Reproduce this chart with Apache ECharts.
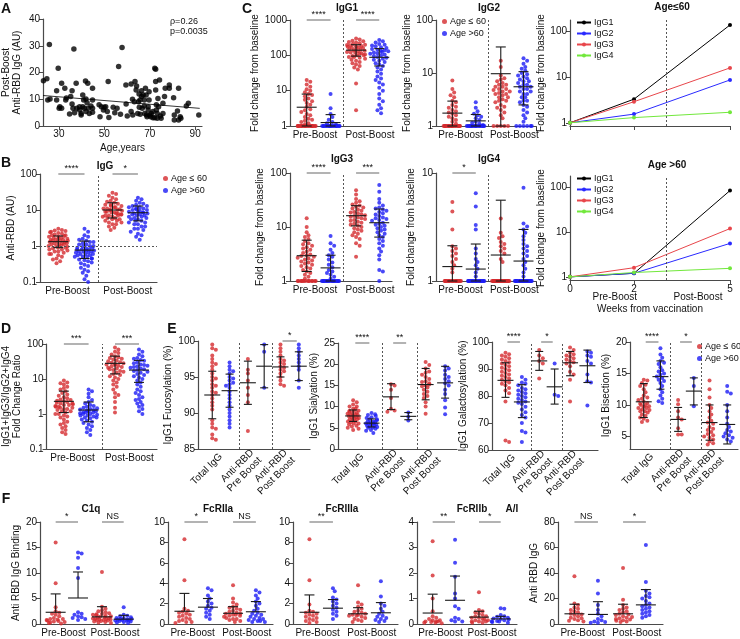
<!DOCTYPE html>
<html><head><meta charset="utf-8">
<script src="https://cdn.jsdelivr.net/npm/echarts@6/dist/echarts.min.js"></script>
<style>html,body{margin:0;padding:0;background:#fff}#c{width:740px;height:639px}</style>
</head><body><div id="c"></div>
<script>
// ===================== DATA =====================
// Panel A: [age, post-boost anti-RBD IgG]
const A_points=[[23.2,16.9],[24.7,17.7],[25.8,30.5],[25.1,9.7],[26.1,10.1],[29.0,13.2],[29.0,9.7],[29.7,21.6],[30.4,7.2],[31.2,6.6],[30.1,6.6],[31.2,16.0],[32.6,14.1],[33.0,9.7],[33.3,10.5],[34.7,4.5],[35.2,11.0],[35.8,13.2],[35.8,8.2],[36.2,6.6],[36.6,28.8],[36.9,5.0],[37.6,16.0],[37.9,6.6],[39.1,7.2],[39.1,6.0],[39.8,4.7],[39.8,4.1],[40.5,11.6],[40.5,7.2],[40.9,9.7],[41.2,6.6],[41.7,16.8],[41.9,5.4],[41.9,10.1],[42.4,8.7],[42.7,16.0],[42.9,6.6],[43.4,4.7],[44.1,7.5],[44.8,14.1],[44.8,9.7],[44.8,6.6],[44.8,5.1],[47.7,7.9],[48.1,3.5],[48.7,7.2],[49.6,6.0],[49.9,7.0],[50.6,7.2],[51.3,5.4],[51.7,16.6],[52.0,3.2],[53.9,7.0],[54.6,5.0],[55.6,6.6],[56.3,22.2],[57.1,4.4],[57.8,29.3],[59.5,15.3],[59.6,8.2],[60.1,3.7],[61.8,15.7],[61.8,5.4],[62.4,10.0],[62.5,4.1],[63.2,9.1],[63.5,16.6],[64.0,13.5],[64.2,15.0],[64.7,4.7],[65.0,9.1],[65.3,12.0],[65.4,7.0],[65.7,9.7],[65.8,4.4],[66.4,11.0],[66.4,13.2],[66.7,6.6],[67.1,11.6],[67.6,7.5],[67.6,9.7],[67.8,4.7],[68.1,14.1],[68.4,11.6],[68.6,4.1],[68.8,3.5],[69.3,6.0],[69.3,7.2],[69.7,9.7],[69.7,12.8],[70.0,4.1],[70.4,3.5],[70.7,4.7],[71.4,3.1],[71.4,5.4],[72.2,3.1],[72.2,21.6],[72.6,21.2],[72.6,16.6],[72.6,13.5],[72.9,7.9],[72.9,6.0],[73.3,2.9],[73.3,4.7],[73.6,10.3],[73.9,7.2],[74.3,17.2],[74.7,3.7],[75.0,2.9],[75.8,8.5],[75.8,4.7],[76.5,11.0],[76.8,14.1],[78.6,15.3],[78.6,14.1],[80.5,10.6],[80.8,4.1],[80.8,2.2],[82.2,5.6],[82.7,2.2],[82.7,14.1],[83.4,3.5],[83.7,2.9],[86.1,7.5],[87.0,8.5],[91.6,4.1]];
const A_fitAge=[23,92], A_fitVal=[11.4,6.6];

// Panel B: anti-RBD IgG (AU)
const B_le60_pre=[3.0,2.8,2.7,2.6,2.5,2.4,2.3,2.2,2.1,2.0,2.0,1.9,1.8,1.8,1.7,1.7,1.6,1.6,1.5,1.5,1.5,1.4,1.4,1.4,1.3,1.3,1.3,1.2,1.2,1.2,1.1,1.1,1.1,1.0,1.0,1.0,0.95,0.9,0.9,0.85,0.8,0.8,0.75,0.7,0.7,0.65,0.6,0.6,0.55,0.5,0.45,0.42,0.38,0.33];
const B_gt60_pre=[3.0,2.5,2.0,1.8,1.6,1.5,1.4,1.3,1.3,1.2,1.1,1.1,1.0,1.0,0.95,0.9,0.9,0.85,0.8,0.8,0.8,0.75,0.75,0.7,0.7,0.7,0.65,0.65,0.6,0.6,0.6,0.55,0.55,0.5,0.5,0.5,0.45,0.45,0.42,0.4,0.38,0.35,0.33,0.3,0.28,0.25,0.22,0.2,0.18,0.15,0.12,0.1];
const B_le60_post=[30,28,25,22,20,18,17,16,15,14,14,13,13,12,12,11,11,10.5,10,10,10,9.5,9,9,8.5,8.5,8,8,7.5,7.5,7,7,7,6.5,6.5,6,6,5.5,5.5,5,5,4.5,4.5,4,4,3.5,3.2,2.8];
const B_gt60_post=[22,20,18,16,15,14,13,13,12,12,11,11,10.5,10,10,9.5,9,9,8.5,8.5,8,8,7.5,7.5,7,7,6.5,6.5,6,6,5.5,5.5,5,5,4.5,4.5,4,4,3.5,3.5,3,3,2.8,2.5,2.2,2,1.8,1.5];
const B_mean=[1.32,0.77,10,8.4], B_lo=[0.9,0.45,6,5], B_hi=[1.9,1.37,15.9,12.9];
const B_sig=['****','*'];

// Panel C: fold change from baseline
const C1_le60_pre=[20,18,15,13,11,10,9,8,7.5,7,6,5.5,5,4.5,4,3.5,3,2.8,2.5,2.2,2,1.8,1.6,1.5,1.4,1.3,1.2,1.1,1,1,1,1,1,1,1,1,1,1,1,1,1,1,1,1,1,1,1,1];
const C1_gt60_pre=[8,3.2,2.2,1.8,1.5,1.3,1.2,1.1,1,1,1,1,1,1,1,1,1,1,1,1,1,1,1,1,1,1];
const C1_le60_post=[300,280,260,250,240,230,220,210,200,195,190,185,180,175,170,165,160,155,150,145,140,135,130,125,120,118,115,110,105,100,100,95,90,90,85,80,75,70,65,60,55,50,45,40,16,2.8];
const C1_gt60_post=[270,250,230,210,200,190,180,170,160,150,145,140,135,130,125,120,115,110,105,100,95,90,85,80,75,70,65,60,55,50,45,40,35,30,25,22,20,17,15,12,10,8,6,5,4,3.2,2.8,2.3];
const C1_mean=[3.4,1.25,140,88], C1_lo=[1,1,95,50], C1_hi=[8,2.1,200,155];
const C1_sig=['****','****'];

const C2_le60_pre=[7.2,5,4.3,3.8,3.5,3,2.8,2.5,2.3,2.2,2,1.9,1.8,1.7,1.6,1.5,1.4,1.3,1.2,1.1,1,1,1,1,1,1,1,1,1,1,1,1,1,1,1,1,1,1,1,1];
const C2_gt60_pre=[2.8,2.2,1.9,1.7,1.6,1.5,1.4,1.3,1.2,1.15,1.1,1.05,1,1,1,1,1,1,1,1,1,1,1,1,1,1,1,1,1,1];
const C2_le60_post=[17,13,9,8,7.5,7,6.5,6,6,5.5,5.5,5,5,4.8,4.5,4.5,4.2,4,4,3.8,3.5,3.5,3.2,3,3,2.8,2.5,2.3,2.2,2,1.8,1.6,1.4,1,1,1,1,1];
const C2_gt60_post=[19,17,15,13,12,11,10,9.5,9,8.5,8,7.5,7,7,6.5,6,6,5.5,5.5,5,5,4.5,4.5,4,4,3.5,3.5,3,3,2.8,2.5,2.3,2,1.8,1.6,1.4,1.2,1,1,1,1,1,1];
const C2_mean=[1.75,1.25,9.7,5.5], C2_lo=[1,1,1,2.5], C2_hi=[2.95,1.65,31,10.6];
const C2_sig=[null,null];

const C3_le60_pre=[14.5,10,8,7,6.5,6,5.5,5,4.8,4.5,4.2,4,3.8,3.5,3.3,3.1,3,2.9,2.8,2.7,2.6,2.5,2.4,2.3,2.2,2.1,2,1.9,1.8,1.7,1.6,1.5,1.4,1.3,1.2,1.1,1,1,1,1,1,1,1,1,1,1,1,1,1,1];
const C3_gt60_pre=[6.8,5,4.5,3.8,3.3,3,2.8,2.5,2.2,2,1.8,1.6,1.5,1.4,1.3,1.2,1.1,1,1,1,1,1,1,1,1,1,1,1,1,1,1,1,1,1,1,1];
const C3_le60_post=[48,40,33,30,28,26,25,24,23,22,21,20,19,18.5,18,17,16.5,16,15.5,15,14.5,14,13.5,13,12.5,12,11.5,11,10.5,10,9.5,9,8.5,8,7.5,7,6.5,6,5,4.5,2.8];
const C3_gt60_post=[60,45,33,28,25,23,22,21,20,19,18,17,16,15,14.5,14,13.5,13,12,11.5,11,10.5,10,9.5,9,8.5,8,7.5,7,6.5,6,5.5,5,4.5,4,3.5,3,2.5,1.6,1.5,1];
const C3_mean=[2.94,1.75,16.2,12], C3_lo=[1.5,1,10.5,6.5], C3_hi=[5.7,3,24.8,21.5];
const C3_sig=['****','***'];

const C4_le60_pre=[5.4,4.4,3,2.1,2,1.9,1.8,1.7,1.6,1.5,1.4,1.3,1.2,1,1,1,1,1,1,1,1,1,1,1,1,1,1,1,1,1,1,1,1];
const C4_gt60_pre=[6.5,4.9,3.3,3,2,1.8,1.6,1.5,1.4,1.3,1.2,1.1,1,1,1,1,1,1,1,1,1,1,1,1,1,1,1,1,1,1,1,1,1];
const C4_le60_post=[3.8,2.8,2.6,2.5,2.3,2.2,2.1,2,1.9,1.8,1.6,1.5,1,1,1,1,1,1,1,1,1,1,1,1,1,1,1,1,1,1,1,1,1,1,1,1,1,1,1,1];
const C4_gt60_post=[7.3,3.4,3.2,3,2.8,2.6,2.4,2.2,2.1,2,1.9,1.8,1.7,1.6,1.5,1.4,1.3,1.2,1.1,1,1,1,1,1,1,1,1,1,1,1,1,1,1,1,1,1,1,1,1,1,1,1,1,1];
const C4_mean=[1.36,1.29,1.74,1.53], C4_lo=[1,1,1,1], C4_hi=[2.12,2.2,5.6,3.0];
const C4_sig=['*',null];

// Panel C line plots: weeks from vaccination
const weeks=[0,2,5];
const le60_IgG1=[1,3.3,140], le60_IgG2=[1,1.55,8.7], le60_IgG3=[1,2.9,16], le60_IgG4=[1,1.3,1.7];
const gt60_IgG1=[1,1.2,85], gt60_IgG2=[1,1.2,5.6], gt60_IgG3=[1,1.6,12], gt60_IgG4=[1,1.25,1.55];

// Panel D: IgG1+IgG3/IgG2+IgG4 fold change ratio
const D_le60_pre=[9,8,7.5,7,6,5.5,5,4.5,4,3.6,3.3,3,2.8,2.6,2.5,2.4,2.3,2.2,2.1,2,2,1.9,1.8,1.8,1.7,1.6,1.6,1.5,1.5,1.4,1.4,1.3,1.2,1.2,1.1,1,1,0.9,0.85,0.8,0.7,0.6,0.55,0.5,0.45,0.4,0.35,0.3,0.27];
const D_gt60_pre=[5,4.5,3.8,3,2.5,2.2,2,1.8,1.7,1.6,1.5,1.45,1.4,1.35,1.3,1.25,1.2,1.2,1.15,1.1,1.1,1.05,1,1,0.95,0.9,0.9,0.85,0.8,0.8,0.75,0.7,0.65,0.6,0.55,0.5,0.45,0.4,0.35,0.3,0.25];
const D_le60_post=[80,70,60,55,50,45,42,40,38,36,34,32,30,29,28,27,26,25,24,23,22,21,20,19,18,17,16,15,14,13,12,11,10,9,8,7,6,5,4,3.5,3,2.2,1.5,1.1];
const D_gt60_post=[70,60,50,45,40,38,35,33,30,28,26,25,24,23,22,21,20,19,18,17,16,15,14,13,12,11,10,9,8,7,6,5,4.5,4,3.5,3,2.7,2.5,2.2,2,1.8,1.6,1.4,1.2,1];
const D_mean=[2.3,1.3,28,18], D_lo=[1.1,0.6,14,8], D_hi=[4.5,2.2,45,34];
const D_sig=['***','***'];

// Panel E: glycosylation (%), groups: Total IgG, Anti-RBD Pre Boost, Anti-RBD Post Boost
const E_cats=['Total IgG','Anti-RBD\nPre Boost','Anti-RBD\nPost Boost'];
const E1_le60_total=[99.5,99,98.8,98,97.5,97,96.8,96.5,96,95.5,95,94.8,94.5,94,93.8,93.5,93,92.8,92.5,92,91.5,91,90.5,89,88.5,88,87.8,87,86.5,86.3];
const E1_gt60_total=[97,96.5,96,95.8,95.5,95,94.8,94.5,94.2,94,93.8,93.5,93,92.5,92,91.5,91,90.5,90,89.5,89,88.5,88];
const E1_le60_pre=[97.5,96,95.5,94.5,93.5,92.5,91.5,87.5];
const E1_gt60_pre=[99.5,98.5,93.5];
const E1_le60_post=[99.5,99,98.5,98,97.5,97.3,97,96.8,96.5,96.3,96,95.8,95.5,95,94.5,94,93.8];
const E1_gt60_post=[99.5,99,98.5,98,97.5,97,96.5,96,94.5,93.5];
const E1_mean=[92.5,93.1,94.2,96.5,96.4,96.5], E1_lo=[89.2,90.8,91.2,93.5,95,94.5], E1_hi=[95.8,95.4,97.2,99.5,97.8,98.5];
const E1_sig=[null,null,'*'];

const E2_le60_total=[11.5,11,10.5,10,10,9.5,9.5,9,9,9,8.8,8.5,8.5,8.3,8.2,8,8,7.8,7.8,7.5,7.5,7.3,7.2,7,7,6.8,6.5,6.5,6.3,6,6,5.8,5.5,5.3,5,4.8,4.5];
const E2_gt60_total=[8.5,8.2,8,7.8,7.5,7.3,7,7,6.8,6.5,6.5,6.3,6.2,6,6,6,5.8,5.8,5.5,5.5,5.3,5.2,5,5,4.8,4.5,4.3,3.8];
const E2_le60_pre=[15.3,15,14,12,9.5,9.1,8.8];
const E2_gt60_pre=[8.6,7.6,6.7];
const E2_le60_post=[20.5,19.8,19,18.3,18,17.5,17,16.5,16,15.8,15.5,15.2,15,14.8,14.5,14,13.5,13,12.5,12,11,10,8.3];
const E2_gt60_post=[19.5,19,18.5,17.5,17,16.5,16,15.5,15,14,13,11.5,9.8,8.2];
const E2_mean=[7.8,6.1,12.3,7.7,15.2,15.6], E2_lo=[6.5,5.2,9.3,6.9,11.6,12], E2_hi=[9.2,7.1,15.4,8.6,19,19.5];
const E2_sig=['****','**',null];

const E3_le60_total=[96,95.5,95,94.5,94,93.5,93,92.5,92,91.5,91,90.5,90,89.5,89,88.5,88,87.5,87,86.5,86,85.5,85,84.5,84,83,82,81,78,63.5,63];
const E3_gt60_total=[87,86,85,84.5,84,83,82.5,82,81.5,81,80.5,80,79.5,79,78.5,78,77.5,77,76,75,74,73,72,70,67,66.5,63];
const E3_le60_pre=[97,95,94,93,92,86.5];
const E3_gt60_pre=[92,80.5,80];
const E3_le60_post=[98,97,96,95.5,95,94.5,94,93.5,93,92.5,92,91,89,88,86,78];
const E3_gt60_post=[96.5,96,95,94.5,93,92,88,85.5,85,76.5];
const E3_mean=[85.8,77.8,93,83.4,92.3,91.2], E3_lo=[79.5,72,89.5,77,87.5,85], E3_hi=[92.3,84.2,96.5,90,96.5,97];
const E3_sig=['****','*',null];

const E4_le60_total=[14,13.9,13.5,13.2,13,12.5,12,11.5,11.2,11,10.8,10.5,10.3,10.2,10,10,9.8,9.7,9.5,9.5,9.3,9.2,9,9,8.8,8.5,8.3,8,7.8,7.5,7.3];
const E4_gt60_total=[19,18,17.5,17,16.7,16.5,16,15.5,15.3,15,14.8,14.5,14.3,14,13.8,13.5,13,12.5,12,11.5,11,10.6,10.3];
const E4_le60_pre=[10.8,10.1,9,8,7.7,6.3,5.3,5.3];
const E4_gt60_pre=[14.3,13,9.8];
const E4_le60_post=[13.9,12.5,11.2,10,9.5,9,8.5,8,7.5,7.2,7,6.5,6.2,6,5.7,5.4,5.2,5,4.8,4.5,4.2,3.9,3.7];
const E4_gt60_post=[13,12.1,11.8,10,9,8,7,6.5,6,5.8,5.5,5.2,5,4.8,4.5,4.2];
const E4_mean=[10.5,14.5,7.7,12.2,7.2,6.9], E4_lo=[8,12.5,5.8,10,4.4,3.8], E4_hi=[13.4,17,9.6,14.3,10,10];
const E4_sig=['****','*',null];

// Panel F: anti-RBD IgG binding
const F1_le60_pre=[16,8,3.3,2.5,2.2,2,1.8,1.5,1.2,1,1,0.9,0.8,0.7,0.6,0.5,0.4,0.3,0.2,0.1];
const F1_gt60_pre=[14,13.8,13,11,9,2.3,2,1.8,1.5,1.3,1.2,1,0.8];
const F1_le60_post=[10.2,3.4,3,2.7,2.5,2.3,2.1,2,1.9,1.8,1.7,1.6,1.5,1.4,1.3,1.3,1.2,1.1,1,1,0.9,0.9,0.8,0.8,0.7,0.6,0.5,0.4,0.3,0.2];
const F1_gt60_post=[3.3,1.8,1.6,1.5,1.3,1.2,1.1,1,1,0.9,0.9,0.8,0.8,0.7,0.7,0.6,0.5,0.4,0.3,0.2];
const F1_mean=[2.3,5.1,1.4,0.95], F1_hi=[5.9,10.2,3.4,1.7];
const F1_sig=['*','NS'];

const F2_le60_pre=[8.3,4.3,1.5,1.3,1.2,1.1,1,0.9,0.8,0.7,0.6,0.5,0.4,0.3,0.2,0.2,0.1];
const F2_gt60_pre=[3.5,3.3,2.8,2.5,2.2,2,1.8,1.6,1.5,1.3,1.1,0.9,0.7,0.5];
const F2_le60_post=[3.8,2.5,2.1,1.9,1.7,1.6,1.5,1.4,1.3,1.2,1.1,1,1,0.9,0.9,0.8,0.8,0.7,0.6,0.5,0.5,0.4,0.3,0.2];
const F2_gt60_post=[3.3,3.1,2.8,2.5,2.2,2,1.8,1.5,1.3,1.1,1,0.9,0.8,0.7,0.6,0.5,0.5,0.4,0.3,0.3,0.2,0.2];
const F2_mean=[1.25,1.65,1.05,1.2], F2_hi=[3.0,2.5,1.7,2.2];
const F2_sig=['*','NS'];

const F3_le60_pre=[8.3,4.3,1.9,1.3,1.2,1.1,1,0.9,0.8,0.7,0.6,0.5,0.4,0.3,0.2,0.1];
const F3_gt60_pre=[3.5,3.2,2.6,2.4,2.2,2,1.8,1.6,1.4,1.2,1,0.8,0.5];
const F3_le60_post=[3.8,2.1,1.9,1.7,1.5,1.3,1.2,1.1,1,0.9,0.9,0.8,0.8,0.7,0.6,0.5,0.4,0.3,0.2];
const F3_gt60_post=[4.2,2.7,2,1.8,1.5,1.2,1,0.8,0.7,0.6,0.5,0.4,0.3,0.2];
const F3_mean=[1.15,1.55,1.0,1.1], F3_hi=[2.85,2.4,1.6,2.1];
const F3_sig=['**',null];

const F4_le60_pre=[3.25,1.9,1.0,0.5,0.3,0.25,0.2,0.15,0.15,0.1,0.1,0.1,0.08,0.05,0.05,0.03];
const F4_gt60_pre=[3.3,2.4,1.85,1.2,1.0,0.7,0.6,0.25,0.2,0.15,0.1,0.1];
const F4_le60_post=[1.25,0.55,0.5,0.45,0.4,0.35,0.3,0.3,0.25,0.25,0.2,0.2,0.15,0.15,0.1,0.1,0.1,0.05,0.05];
const F4_gt60_post=[0.62,0.6,0.35,0.3,0.28,0.25,0.22,0.2,0.18,0.15,0.12,0.1,0.1,0.08,0.05];
const F4_mean=[0.43,0.93,0.27,0.2], F4_hi=[1.17,1.88,0.5,0.3];
const F4_sig=['**','*'];

const F5_le60_pre=[37.5,16,15,13,12,11,10,9,8,7.5,7,6,5,4.5,4,3,2.5,2];
const F5_gt60_pre=[34,24,15,11,8,6,4,3,2,1.5,1,1];
const F5_le60_post=[44,19,15,13,12,11,10,9,8,7.5,7,6,5.5,5,4.5,4,3.5,3,2.5,2,1.5];
const F5_gt60_post=[62,33,26,24,22,21,20,18,16,15,14,13,12,11,10,9,8,7,6,5];
const F5_mean=[8,7.5,8,15], F5_hi=[15.5,17.5,15.5,27];
const F5_sig=['NS','*'];

const prePost=['Pre-Boost','Post-Boost'];

// ===================== RENDER =====================
const FF='Liberation Sans, Arial, Helvetica, sans-serif';
const RED='#d42a2e', BLUE='#1c1cf5', AXC='#4a4a4a', TXT='#111';
const YOUNG='Age ≤ 60', OLD='Age >60';
const grids=[], xAxes=[], yAxes=[], series=[], graphics=[];

function fmt(v){return String(Math.round(v*10000)/10000);}
function nearest(arr,txt,v){let b=0,d=1e9;arr.forEach((p,i)=>{const dd=Math.abs(p-v);if(dd<d){d=dd;b=i;}});return d<1e-6?txt[b]:'';}

function yAxisDef(g,o){
  return {gridIndex:g,type:o.yType,logBase:10,min:o.yMin,max:o.yMax,
    axisLine:{show:true,onZero:false,lineStyle:{color:AXC,width:1.2}},
    axisTick:{show:true,length:4,customValues:o.yTicks,lineStyle:{color:AXC}},
    minorTick:{show:false},splitLine:{show:false},
    axisLabel:{customValues:o.yTicks,fontSize:10,color:TXT,margin:3,fontFamily:FF,formatter:fmt,showMinLabel:true,showMaxLabel:true},
    name:o.yName,nameLocation:'middle',nameGap:o.yGap,
    nameTextStyle:{fontSize:10,color:TXT,fontFamily:FF,lineHeight:11}};
}

function swarm(vals,cx,pyPer,pxPer,size,half,T){
  const placed=[],out=[];const minD2=(size*0.88)**2;
  vals.forEach((v,i)=>{
    const py=T(v)*pyPer;let off=null;
    for(let k=0;k<100;k++){
      const o=(k%2?1:-1)*Math.ceil(k/2)*size*0.45;
      if(Math.abs(o)>half)break;
      if(placed.every(p=>(p[0]-o)**2+(p[1]-py)**2>=minD2)){off=o;break;}
    }
    if(off===null)off=-half+((i*0.6180339)%1)*2*half;
    placed.push([off,py]);out.push([cx+off/pxPer,v]);
  });
  return out;
}

function makeErr(half,cap){
  return function(params,api){
    const x=api.value(0),m=api.value(1),lo=api.value(2),hi=api.value(3);
    const pm=api.coord([x,m]),ph=api.coord([x,hi]),pl=api.coord([x,lo]);
    const st={stroke:'#1a1a1a',lineWidth:1.1};
    const ch=[
      {type:'line',shape:{x1:pm[0]-half,y1:pm[1],x2:pm[0]+half,y2:pm[1]},style:st},
      {type:'line',shape:{x1:pm[0],y1:pl[1],x2:pm[0],y2:ph[1]},style:st},
      {type:'line',shape:{x1:pm[0]-cap,y1:ph[1],x2:pm[0]+cap,y2:ph[1]},style:st}];
    if(lo<m)ch.push({type:'line',shape:{x1:pm[0]-cap,y1:pl[1],x2:pm[0]+cap,y2:pl[1]},style:st});
    return {type:'group',children:ch};
  };
}
function makeSig(labels){
  return function(params,api){
    const a=api.coord([api.value(0),api.value(2)]),b=api.coord([api.value(1),api.value(2)]);
    return {type:'group',children:[
      {type:'line',shape:{x1:a[0],y1:a[1],x2:b[0],y2:b[1]},style:{stroke:'#8a8a8a',lineWidth:1.3}},
      {type:'text',x:(a[0]+b[0])/2,y:a[1]-1,style:{text:labels[params.dataIndex],align:'center',verticalAlign:'bottom',fontSize:9,fill:TXT,fontFamily:FF}}]};
  };
}

function stripPanel(o){
  const [l,t,w,h]=o.rect;const g=grids.length;const xi=xAxes.length;
  grids.push({left:l,top:t,width:w,height:h});
  xAxes.push({gridIndex:g,type:'value',min:0,max:o.xMax,
    axisLine:{show:true,onZero:false,lineStyle:{color:AXC,width:1.2}},axisTick:{show:false},splitLine:{show:false},
    axisLabel:{customValues:o.xLabPos,formatter:v=>nearest(o.xLabPos,o.xLabText,v),fontSize:o.xFont||10,color:TXT,
      margin:o.xMargin||4,rotate:o.rotate||0,lineHeight:11,fontFamily:FF,showMinLabel:true,showMaxLabel:true,hideOverlap:false}});
  yAxes.push(yAxisDef(g,o));
  const T=o.yType==='log'?Math.log10:(v=>v);
  const span=T(o.yMax)-T(o.yMin);
  o.groups.forEach((vals,i)=>{
    const s={type:'scatter',name:i%2?OLD:YOUNG,xAxisIndex:xi,yAxisIndex:g,
      data:swarm(vals,o.pos[i],h/span,w/o.xMax,o.size,o.half,T),
      symbolSize:o.size,itemStyle:{color:i%2?BLUE:RED},clip:false,z:2,silent:true};
    if(i===0){
      const ml=o.seps.map(x=>({xAxis:x}));
      if(o.hline)ml.push({yAxis:o.hline});
      if(ml.length)s.markLine={silent:true,symbol:['none','none'],label:{show:false},animation:false,
        lineStyle:{type:[2,2],color:'#555',width:1},data:ml};
    }
    series.push(s);
  });
  const lo=o.lo||o.mean;
  series.push({type:'custom',xAxisIndex:xi,yAxisIndex:g,renderItem:makeErr(o.barHalf||10,o.cap||5),
    data:o.mean.map((m,i)=>[o.pos[i],m,lo[i],o.hi[i]]),encode:{x:0,y:1},z:4,silent:true});
  const sd=[],sl=[];
  o.sig.forEach((s,k)=>{if(s){sd.push([o.pos[2*k]-o.sigPad,o.pos[2*k+1]+o.sigPad,o.yMax]);sl.push(s);}});
  if(sd.length)series.push({type:'custom',xAxisIndex:xi,yAxisIndex:g,renderItem:makeSig(sl),data:sd,encode:{x:[0,1],y:2},z:4,silent:true});
  return g;
}

function text(x,y,s,opt){graphics.push({type:'text',x,y,silent:true,style:Object.assign({text:s,fontSize:10,fill:TXT,fontFamily:FF,align:'center',verticalAlign:'middle'},opt||{})});}

// ---- A ----
(function(){
  const g=grids.length, xi=xAxes.length;
  grids.push({left:40,top:19,width:162,height:107});
  xAxes.push({gridIndex:g,type:'value',min:23,max:93,axisLine:{show:true,onZero:false,lineStyle:{color:AXC,width:1.2}},
    axisTick:{show:true,length:4,customValues:[30,50,70,90],lineStyle:{color:AXC}},splitLine:{show:false},
    axisLabel:{customValues:[30,50,70,90],fontSize:10,color:TXT,margin:3,fontFamily:FF},
    name:'Age,years',nameLocation:'middle',nameGap:17,nameTextStyle:{fontSize:10,color:TXT,fontFamily:FF}});
  yAxes.push(yAxisDef(g,{yType:'value',yMin:0,yMax:40,yTicks:[0,10,20,30,40],yName:'Post-Boost\nAnti-RBD IgG (AU)',yGap:20}));
  series.push({type:'scatter',xAxisIndex:xi,yAxisIndex:g,data:A_points,symbolSize:5.5,itemStyle:{color:'#000'},silent:true});
  series.push({type:'line',xAxisIndex:xi,yAxisIndex:g,data:A_fitAge.map((a,i)=>[a,A_fitVal[i]]),symbol:'none',lineStyle:{color:'#000',width:0.8},silent:true});
  text(170,22,'ρ=0.26',{align:'left',fontSize:9});
  text(170,32,'p=0.0035',{align:'left',fontSize:9});
})();

const POS4=[0.72,1.75,2.85,3.85], SEP4=[2.3];
const POS6=[14,31,49,65,81,99], SEP6=[41,73];
const XL4=[1.08,3.45], XL6=[22.5,57,90];

// ---- B ----
stripPanel({rect:[40,174,117,108],xMax:4.6,pos:POS4,seps:SEP4,hline:1,yType:'log',yMin:0.1,yMax:100,yTicks:[0.1,1,10,100],
  yName:'Anti-RBD (AU)',yGap:22,groups:[B_le60_pre,B_gt60_pre,B_le60_post,B_gt60_post],mean:B_mean,lo:B_lo,hi:B_hi,
  sig:B_sig,sigPad:0,xLabPos:XL4,xLabText:prePost,size:4,half:10});
text(105,166,'IgG',{fontWeight:'bold'});

// ---- C strip panels ----
stripPanel({rect:[290,20,102,106],xMax:4.4,pos:POS4,seps:SEP4,yType:'log',yMin:1,yMax:1000,yTicks:[1,10,100,1000],
  yName:'Fold change from baseline',yGap:24,groups:[C1_le60_pre,C1_gt60_pre,C1_le60_post,C1_gt60_post],mean:C1_mean,lo:C1_lo,hi:C1_hi,
  sig:C1_sig,sigPad:0,xLabPos:XL4,xLabText:prePost,size:4,half:9});
text(347,8,'IgG1',{fontWeight:'bold'});
stripPanel({rect:[436,20,100,106],xMax:4.4,pos:POS4,seps:SEP4,yType:'log',yMin:1,yMax:100,yTicks:[1,10,100],
  yName:'Fold change from baseline',yGap:19,groups:[C2_le60_pre,C2_gt60_pre,C2_le60_post,C2_gt60_post],mean:C2_mean,lo:C2_lo,hi:C2_hi,
  sig:C2_sig,sigPad:0,xLabPos:XL4,xLabText:prePost,size:4,half:9});
text(489,8,'IgG2',{fontWeight:'bold'});
stripPanel({rect:[290,173,102,108],xMax:4.4,pos:POS4,seps:SEP4,yType:'log',yMin:1,yMax:100,yTicks:[1,10,100],
  yName:'Fold change from baseline',yGap:24,groups:[C3_le60_pre,C3_gt60_pre,C3_le60_post,C3_gt60_post],mean:C3_mean,lo:C3_lo,hi:C3_hi,
  sig:C3_sig,sigPad:0,xLabPos:XL4,xLabText:prePost,size:4,half:9});
text(342,159,'IgG3',{fontWeight:'bold'});
stripPanel({rect:[436,173,100,108],xMax:4.4,pos:POS4,seps:SEP4,yType:'log',yMin:1,yMax:10,yTicks:[1,10],
  yName:'Fold change from baseline',yGap:19,groups:[C4_le60_pre,C4_gt60_pre,C4_le60_post,C4_gt60_post],mean:C4_mean,lo:C4_lo,hi:C4_hi,
  sig:C4_sig,sigPad:0,xLabPos:XL4,xLabText:prePost,size:4,half:9});
text(489,159,'IgG4',{fontWeight:'bold'});

// ---- C line panels ----
const LCOL={IgG1:'#000000',IgG2:'#2a2aff',IgG3:'#e8464b',IgG4:'#72e83c'};
function linePanel(rect,sets,showLabels,title,tx,ty){
  const g=grids.length;const xi=xAxes.length;const [l,t,w,h]=rect;
  grids.push({left:l,top:t,width:w,height:h});
  xAxes.push({gridIndex:g,type:'value',min:0,max:5,axisLine:{show:true,onZero:false,lineStyle:{color:AXC,width:1.2}},
    axisTick:{show:true,length:4,customValues:[0,2,5],lineStyle:{color:AXC}},splitLine:{show:false},
    axisLabel:{show:showLabels,customValues:[0,2,5],fontSize:10,color:TXT,margin:4,fontFamily:FF,showMinLabel:true,showMaxLabel:true},
    name:showLabels?'Weeks from vaccination':'',nameLocation:'middle',nameGap:24,nameTextStyle:{fontSize:10,color:TXT,fontFamily:FF}});
  if(showLabels){
    xAxes.push({gridIndex:g,type:'value',min:0,max:5,position:'bottom',offset:12,axisLine:{show:false},axisTick:{show:false},splitLine:{show:false},
      axisLabel:{customValues:[1.4,4.0],formatter:v=>nearest([1.4,4.0],prePost,v),fontSize:10,color:TXT,margin:0,fontFamily:FF,showMinLabel:true,showMaxLabel:true}});
  }
  yAxes.push(yAxisDef(g,{yType:'log',yMin:0.85,yMax:180,yTicks:[1,10,100],yName:'Fold change from baseline',yGap:17}));
  Object.keys(sets).forEach((k,i)=>{
    const s={type:'line',name:k,xAxisIndex:xi,yAxisIndex:g,data:weeks.map((wk,j)=>[wk,sets[k][j]]),symbol:'circle',symbolSize:4,
      lineStyle:{color:LCOL[k],width:1},itemStyle:{color:LCOL[k]},silent:true,z:3};
    if(i===0)s.markLine={silent:true,symbol:['none','none'],label:{show:false},lineStyle:{type:[2,2],color:'#555',width:1},data:[{xAxis:3}]};
    series.push(s);
  });
  text(tx,ty,title,{fontWeight:'bold'});
}
linePanel([570,20,160,106],{IgG1:le60_IgG1,IgG2:le60_IgG2,IgG3:le60_IgG3,IgG4:le60_IgG4},false,'Age≤60',672,7);
linePanel([570,176,160,104],{IgG1:gt60_IgG1,IgG2:gt60_IgG2,IgG3:gt60_IgG3,IgG4:gt60_IgG4},true,'Age >60',667,165);

// ---- D ----
stripPanel({rect:[40,344,117,105],xMax:4.6,pos:POS4,seps:SEP4,yType:'log',yMin:0.1,yMax:100,yTicks:[0.1,1,10,100],
  yName:'IgG1+IgG3/IgG2+IgG4\nFold Change Ratio',yGap:22,groups:[D_le60_pre,D_gt60_pre,D_le60_post,D_gt60_post],mean:D_mean,lo:D_lo,hi:D_hi,
  sig:D_sig,sigPad:0,xLabPos:XL4,xLabText:prePost,size:4,half:10});

// ---- E ----
function ePanel(rect,yMin,yMax,ticks,name,gap,groups,mean,lo,hi,sig){
  stripPanel({rect,xMax:110,pos:POS6,seps:SEP6,yType:'value',yMin,yMax,yTicks:ticks,yName:name,yGap:gap,groups,mean,lo,hi,sig,sigPad:-2,
    xLabPos:XL6,xLabText:E_cats,rotate:45,xFont:10,xMargin:6,size:4,half:6,barHalf:8,cap:4});
}
ePanel([198,341,112,108],85,100,[85,90,95,100],'IgG1 Fucosylation (%)',24,[E1_le60_total,E1_gt60_total,E1_le60_pre,E1_gt60_pre,E1_le60_post,E1_gt60_post],E1_mean,E1_lo,E1_hi,E1_sig);
ePanel([338,343,119,106],0,25,[0,5,10,15,20,25],'IgG1 Sialyation (%)',17,[E2_le60_total,E2_gt60_total,E2_le60_pre,E2_gt60_pre,E2_le60_post,E2_gt60_post],E2_mean,E2_lo,E2_hi,E2_sig);
ePanel([492,342,106,108],60,100,[60,70,80,90,100],'IgG1 Galactosylation (%)',23,[E3_le60_total,E3_gt60_total,E3_le60_pre,E3_gt60_pre,E3_le60_post,E3_gt60_post],E3_mean,E3_lo,E3_hi,E3_sig);
ePanel([630,342,108,107],3,20,[5,10,15,20],'IgG1 Bisection (%)',17,[E4_le60_total,E4_gt60_total,E4_le60_pre,E4_gt60_pre,E4_le60_post,E4_gt60_post],E4_mean,E4_lo,E4_hi,E4_sig);

// ---- F ----
function fPanel(rect,yMax,ticks,name,groups,mean,hi,sig,title,tx){
  stripPanel({rect,xMax:4.6,pos:POS4,seps:[],yType:'value',yMin:0,yMax,yTicks:ticks,yName:name,yGap:17,groups,mean,lo:null,hi,sig,sigPad:0,
    xLabPos:XL4,xLabText:prePost,size:4,half:9,barHalf:10,cap:5});
  text(tx,509,title,{fontWeight:'bold'});
}
fPanel([40,522,100,106],20,[0,5,10,15,20],'Anti RBD IgG Binding',[F1_le60_pre,F1_gt60_pre,F1_le60_post,F1_gt60_post],F1_mean,F1_hi,F1_sig,'C1q',91);
fPanel([168,522,105,106],10,[0,2,4,6,8,10],'',[F2_le60_pre,F2_gt60_pre,F2_le60_post,F2_gt60_post],F2_mean,F2_hi,F2_sig,'FcRIIa',218);
fPanel([293,522,105,106],10,[0,2,4,6,8,10],'',[F3_le60_pre,F3_gt60_pre,F3_le60_post,F3_gt60_post],F3_mean,F3_hi,F3_sig,'FcRIIIa',342);
fPanel([417,522,100,106],4,[0,1,2,3,4],'',[F4_le60_pre,F4_gt60_pre,F4_le60_post,F4_gt60_post],F4_mean,F4_hi,F4_sig,'FcRIIb',472);
fPanel([558,522,105,106],80,[0,20,40,60,80],'Anti RBD IgG',[F5_le60_pre,F5_gt60_pre,F5_le60_post,F5_gt60_post],F5_mean,F5_hi,F5_sig,'A/I',512);

// panel letters
[['A',6,9],['B',6,163],['C',247,9],['D',6,329],['E',172,329],['F',6,499]].forEach(p=>text(p[1],p[2],p[0],{fontSize:14,fontWeight:'bold'}));

const legAge={data:[YOUNG,OLD],orient:'vertical',icon:'circle',itemWidth:5,itemHeight:5,itemGap:3,padding:0,
  textStyle:{fontSize:9,color:TXT,fontFamily:FF,padding:[0,0,0,-2]}};
const legIg={data:['IgG1','IgG2','IgG3','IgG4'],orient:'vertical',itemWidth:14,itemHeight:5,itemGap:2,padding:0,
  textStyle:{fontSize:9,color:TXT,fontFamily:FF,padding:[0,0,0,-2]}};

const chart=echarts.init(document.getElementById('c'),null,{renderer:'canvas'});
chart.setOption({
  animation:false,backgroundColor:'#fff',textStyle:{fontFamily:FF},
  grid:grids,xAxis:xAxes,yAxis:yAxes,series:series,graphic:graphics,
  legend:[Object.assign({left:163,top:174},legAge),Object.assign({left:442,top:17},legAge),Object.assign({left:697,top:342},legAge),
    Object.assign({left:576,top:18},legIg),Object.assign({left:576,top:174},legIg)]
});
</script></body></html>
